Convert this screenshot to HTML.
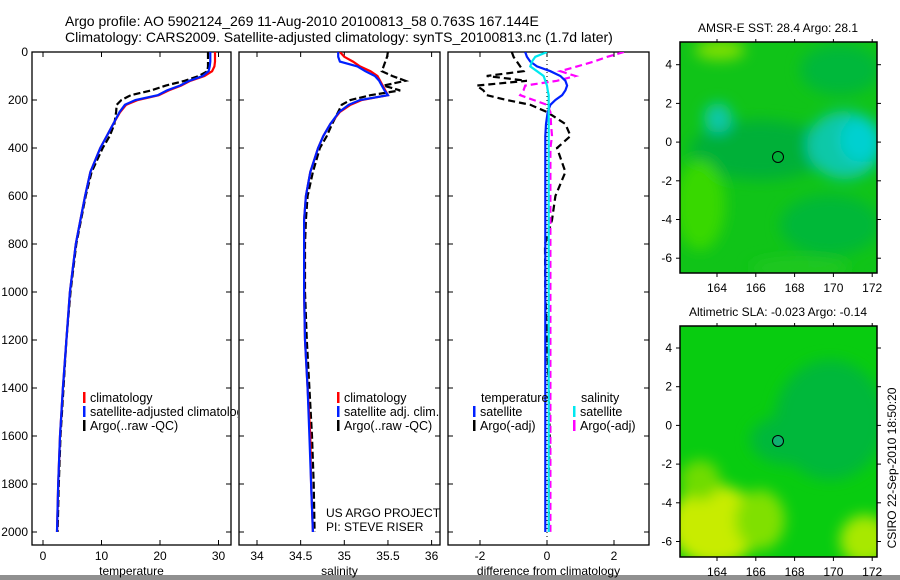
<!DOCTYPE html>
<html><head><meta charset="utf-8">
<style>
body{margin:0;background:#fff;}
svg{display:block;font-family:"Liberation Sans",sans-serif;}
</style></head>
<body>
<svg id="fig" width="900" height="580" viewBox="0 0 900 580" xmlns="http://www.w3.org/2000/svg">
<defs>
<filter id="blur" x="-20%" y="-20%" width="140%" height="140%"><feGaussianBlur stdDeviation="7"/></filter>
<clipPath id="clipA"><rect x="680" y="42" width="197" height="231"/></clipPath>
<clipPath id="clipB"><rect x="680" y="326" width="197" height="231"/></clipPath>
<clipPath id="c1"><rect x="32" y="52" width="199" height="493"/></clipPath>
<clipPath id="c2"><rect x="239" y="52" width="201" height="493"/></clipPath>
<clipPath id="c3"><rect x="448" y="52" width="201" height="493"/></clipPath>
<clipPath id="legclip"><rect x="0" y="0" width="238" height="580"/></clipPath>
</defs>
<text x="65" y="26" font-size="14">Argo profile: AO 5902124_269 11-Aug-2010 20100813_58 0.763S 167.144E</text>
<text x="65" y="42" font-size="14">Climatology: CARS2009. Satellite-adjusted climatology: synTS_20100813.nc (1.7d later)</text>

<!-- maps -->
<g>
<text x="778" y="32" font-size="12" text-anchor="middle">AMSR-E SST: 28.4  Argo: 28.1</text>
<g clip-path="url(#clipA)">
<rect x="680" y="42" width="197" height="231" fill="#10c418"/>
<g filter="url(#blur)">
<ellipse cx="760" cy="150" rx="70" ry="30" fill="#00b038"/>
<ellipse cx="840" cy="70" rx="40" ry="25" fill="#00b83a"/>
<ellipse cx="845" cy="145" rx="38" ry="34" fill="#10c8a8"/>
<ellipse cx="860" cy="140" rx="20" ry="22" fill="#00d0d0"/>
<ellipse cx="718" cy="118" rx="14" ry="15" fill="#10c8a8"/>
<ellipse cx="700" cy="205" rx="25" ry="45" fill="#38d800"/>
<ellipse cx="720" cy="50" rx="25" ry="10" fill="#80e000"/>
<ellipse cx="830" cy="225" rx="50" ry="30" fill="#00b838"/>
<ellipse cx="800" cy="268" rx="50" ry="10" fill="#20c820"/>
</g>
</g>
<rect x="680" y="42" width="197" height="231" fill="none" stroke="#000" stroke-width="1.5"/>
<circle cx="778" cy="157" r="5.5" fill="none" stroke="#000"/>
</g>
<g>
<text x="778" y="316" font-size="12" text-anchor="middle">Altimetric SLA: -0.023  Argo: -0.14</text>
<g clip-path="url(#clipB)">
<rect x="680" y="326" width="197" height="231" fill="#08cc10"/>
<g filter="url(#blur)">
<ellipse cx="830" cy="420" rx="55" ry="60" fill="#00b83a"/>
<ellipse cx="790" cy="440" rx="40" ry="25" fill="#00b83a"/>
<ellipse cx="715" cy="525" rx="45" ry="40" fill="#c8ec00"/>
<ellipse cx="760" cy="520" rx="25" ry="30" fill="#80e000"/>
<ellipse cx="865" cy="540" rx="25" ry="25" fill="#a8e800"/>
<ellipse cx="700" cy="480" rx="20" ry="20" fill="#70dc00"/>
</g>
</g>
<rect x="680" y="326" width="197" height="231" fill="none" stroke="#000" stroke-width="1.5"/>
<circle cx="778" cy="441" r="5.5" fill="#10b070" stroke="#000"/>
</g>
<text transform="translate(896,468) rotate(-90)" font-size="12" text-anchor="middle">CSIRO 22-Sep-2010 18:50:20</text>
<rect x="0" y="575" width="900" height="5" fill="#909090"/>
<g id="dyn"></g>
</svg>
<script>
// depth grid (m)
const depths = [0,20,40,60,80,100,120,140,160,180,200,220,250,300,350,400,500,600,700,800,1000,1200,1400,1600,1800,2000];
// temperature panel
const tempClim = [29.4,29.4,29.4,29.3,28.9,27.6,25.2,23.6,21.5,19.8,16.2,14.2,13.2,12.0,10.9,9.8,8.1,7.2,6.4,5.6,4.6,4.0,3.4,2.9,2.6,2.4];
const tempSat  = [28.6,28.6,28.6,28.5,28.3,27.3,25.0,23.4,21.2,19.6,15.8,14.0,13.1,12.0,10.9,9.8,8.1,7.2,6.4,5.6,4.6,4.0,3.4,2.9,2.6,2.4];
const tempArgo = [28.2,28.2,28.2,28.2,28.1,26.6,24.2,21.0,18.5,15.0,13.4,12.6,12.5,12.2,11.4,10.2,8.3,7.3,6.5,5.7,4.7,4.0,3.5,3.0,2.7,2.5];
// salinity panel
const salClim = [34.95,35.0,35.1,35.18,35.3,35.38,35.41,35.44,35.47,35.5,35.2,35.07,34.95,34.84,34.76,34.70,34.61,34.56,34.54,34.54,34.54,34.55,34.58,34.61,34.62,34.64];
const salSat  = [34.93,34.93,34.95,35.15,35.24,35.35,35.4,35.43,35.46,35.5,35.18,35.05,34.94,34.84,34.76,34.70,34.61,34.56,34.54,34.54,34.54,34.55,34.58,34.6,34.62,34.64];
const salArgo = [35.5,35.49,35.47,35.45,35.43,35.55,35.7,35.45,35.64,35.3,35.07,34.97,34.93,34.86,34.8,34.72,34.64,34.58,34.56,34.55,34.55,34.57,34.6,34.63,34.65,34.66];
// difference panel
const dTempSat  = [-0.65,-0.6,-0.5,-0.3,0.1,0.4,0.55,0.6,0.55,0.45,0.25,0.1,0.02,-0.03,-0.05,-0.05,-0.05,-0.05,-0.05,-0.05,-0.05,-0.05,-0.05,-0.05,-0.05,-0.05];
const dTempArgo = [-1.05,-1.0,-0.9,-0.8,-0.7,-1.8,-0.6,-2.1,-1.9,-1.8,-1.2,-0.5,0.0,0.55,0.7,0.3,0.55,0.25,0.15,-0.06,-0.05,0.0,0.05,0.08,0.05,0.06];
const dSalSat   = [0.0,-0.35,-0.45,-0.5,-0.3,-0.1,-0.05,0.0,0.02,0.05,0.05,0.05,0.05,0.05,0.05,0.05,0.05,0.05,0.05,0.05,0.05,0.05,0.05,0.05,0.05,0.05];
const dSalArgo  = [2.3,1.8,1.4,0.9,0.4,0.85,0.3,-0.65,-0.7,-0.8,-0.4,0.0,0.1,0.12,0.15,0.1,0.1,0.1,0.1,0.1,0.1,0.1,0.1,0.1,0.1,0.1];
// ticks
const depthTicks = [0,200,400,600,800,1000,1200,1400,1600,1800,2000];
const tempTicks = [0,10,20,30];
const salTicks = [34,34.5,35,35.5,36];
const diffTicks = [-2,0,2];
const lonTicks = [164,166,168,170,172];
const latTicks = [4,2,0,-2,-4,-6];

const NS="http://www.w3.org/2000/svg";
const dyn=document.getElementById('dyn');
function mk(tag,attrs,parent){const e=document.createElementNS(NS,tag);for(const k in attrs)e.setAttribute(k,attrs[k]);(parent||dyn).appendChild(e);return e;}
const yD = d => 52 + d*0.24;
const xT = v => 43 + (v-0)*5.85;
const xS = v => 257 + (v-34)*87.3;
const xF = v => 547 + v*33.5;

function panel(x0,w,name,xs,ticks,label,clip,showDepth){
  const g=mk('g',{});
  
  
  const r=mk('rect',{x:x0,y:52,width:w,height:493,fill:'none',stroke:'#000','stroke-width':1.3},g);
  
  
  ticks.forEach(t=>{
    const x=xs(t);
    mk('line',{x1:x,x2:x,y1:52,y2:57,stroke:'#000'},g);
    mk('line',{x1:x,x2:x,y1:540,y2:545,stroke:'#000'},g);
    const tx=mk('text',{x:x,y:560,'font-size':12,'text-anchor':'middle'},g);
    tx.textContent=String(t);
    
    
  });
  depthTicks.forEach(d=>{
    const y=yD(d);
    mk('line',{x1:x0,x2:x0+5,y1:y,y2:y,stroke:'#000'},g);
    mk('line',{x1:x0+w-5,x2:x0+w,y1:y,y2:y,stroke:'#000'},g);
    if(showDepth){
      const tx=mk('text',{x:28,y:y+4,'font-size':12,'text-anchor':'end'},g);
      tx.textContent=String(d);
      
      
    }
  });
  const lb=mk('text',{x:x0+w/2,y:575,'font-size':12,'text-anchor':'middle'},g);
  lb.textContent=label;
  
  
  return g;
}
function series(vals,xs,color,dash,clip,name){
  const pts=vals.map((v,i)=>xs(v).toFixed(1)+','+yD(depths[i]).toFixed(1)).join(' ');
  const p=mk('polyline',{points:pts,fill:'none',stroke:color,'stroke-width':2.2,'clip-path':'url(#'+clip+')'});
  if(dash)p.setAttribute('stroke-dasharray',dash);
  
  
}
function legend(x,y,items,name,clip){
  const g=mk('g',{});
  if(clip)g.setAttribute('clip-path','url(#'+clip+')');
  items.forEach((it,i)=>{
    const yy=y+i*14;
    if(it[1]){const m=mk('rect',{x:x,y:yy-10,width:2.5,height:11,fill:it[1]},g);
      
      }
    const t=mk('text',{x:x+(it[1]?7:8),y:yy,'font-size':12.5},g);
    t.textContent=it[0];
    
    
  });
}
panel(32,199,'temperature',xT,tempTicks,'temperature','c1',true);
panel(239,201,'salinity',xS,salTicks,'salinity','c2',false);
panel(448,201,'difference',xF,diffTicks,'difference from climatology','c3',false);

series(tempArgo,xT,'#000','7,3','c1','temp-argo-line');
series(tempClim,xT,'#f00',null,'c1','temp-climatology-line');
series(tempSat,xT,'#0020ff',null,'c1','temp-satellite-line');
series(salArgo,xS,'#000','7,3','c2','sal-argo-line');
series(salClim,xS,'#f00',null,'c2','sal-climatology-line');
series(salSat,xS,'#0020ff',null,'c2','sal-satellite-line');
mk('line',{x1:547,x2:547,y1:52,y2:545,stroke:'#000','stroke-dasharray':'1,3'});
series(dTempArgo,xF,'#000','7,4','c3','diff-temp-argo-line');
series(dSalArgo,xF,'#f0f','7,4','c3','diff-sal-argo-line');
series(dTempSat,xF,'#0020ff',null,'c3','diff-temp-satellite-line');
series(dSalSat,xF,'#00e8f0',null,'c3','diff-sal-satellite-line');

legend(83,402,[['climatology','#f00'],['satellite-adjusted climatology','#0020ff'],['Argo(..raw -QC)','#000']],'temp-legend','legclip');
legend(337,402,[['climatology','#f00'],['satellite adj. clim.','#0020ff'],['Argo(..raw -QC)','#000']],'sal-legend');
legend(473,402,[['temperature',null],['satellite','#0020ff'],['Argo(-adj)','#000']],'diff-temp-legend');
legend(573,402,[['salinity',null],['satellite','#00e8f0'],['Argo(-adj)','#f0f']],'diff-sal-legend');
const p1=mk('text',{x:326,y:517,'font-size':12});p1.textContent='US ARGO PROJECT';


const p2=mk('text',{x:326,y:531,'font-size':12});p2.textContent='PI: STEVE RISER';



// map axes
const lonX = l => 717 + (l-164)*19.4;
function mapAxes(top,lat4y,name){
  lonTicks.forEach(l=>{
    const x=lonX(l);
    mk('line',{x1:x,x2:x,y1:top-3,y2:top,stroke:'#000'});
    mk('line',{x1:x,x2:x,y1:top+231,y2:top+235,stroke:'#000'});
    const t=mk('text',{x:x,y:top+250,'font-size':12,'text-anchor':'middle'});
    t.textContent=String(l);
    
    
  });
  latTicks.forEach(v=>{
    const y=lat4y+(4-v)*19.35;
    mk('line',{x1:676,x2:680,y1:y,y2:y,stroke:'#000'});
    mk('line',{x1:877,x2:881,y1:y,y2:y,stroke:'#000'});
    const t=mk('text',{x:672,y:y+4,'font-size':12,'text-anchor':'end'});
    t.textContent=String(v);
    
    
  });
}
mapAxes(42,64.7,'sst-map');
mapAxes(326,348,'sla-map');
</script>
</body></html>
